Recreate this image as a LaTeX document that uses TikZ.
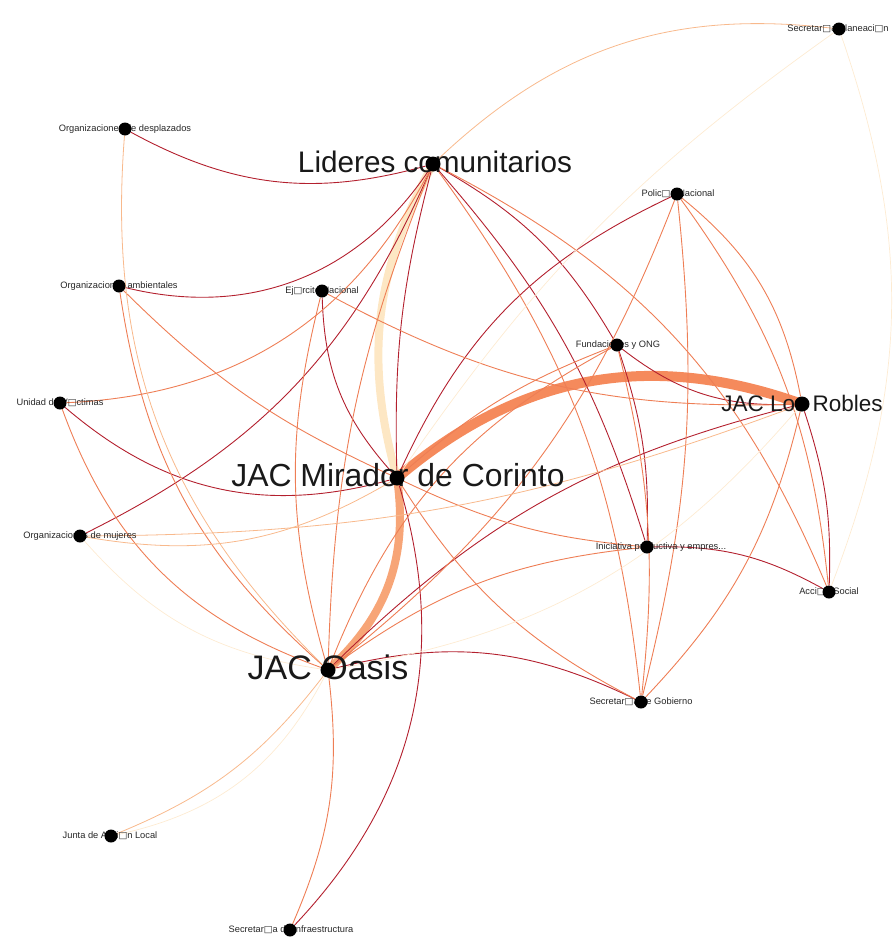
\documentclass[tikz,border=0pt]{standalone}
\usepackage{fontspec}
\setmainfont{Liberation Sans}
\newfontfamily\djv{DejaVu Sans}
\newcommand{\bx}{{\djv\symbol{"25A1}}}
\pgfdeclarelayer{edgelayer}
\pgfdeclarelayer{lablayer}
\pgfsetlayers{edgelayer,lablayer,main}
\definecolor{cA}{HTML}{FDEBD2}
\definecolor{cB}{HTML}{F8B98C}
\definecolor{cC}{HTML}{EE7E55}
\definecolor{cD}{HTML}{B3202E}
\definecolor{cThickA}{HTML}{FDE7C4}
\definecolor{cThickB}{HTML}{F58A5C}
\definecolor{cThickC}{HTML}{F7A577}
\tikzset{
  dot/.style={circle,fill=black,inner sep=0pt,minimum size=13pt},
  bigdot/.style={circle,fill=black,inner sep=0pt,minimum size=15pt},
  small/.style={font=\fontsize{9.3}{9.3}\selectfont,inner sep=0pt,text=black!85},
  big/.style={inner sep=0pt,text=black!90},
  eA/.style={draw=cA,line width=0.7pt},
  eB/.style={draw=cB,line width=0.8pt},
  eC/.style={draw=cC,line width=0.9pt},
  eD/.style={draw=cD,line width=0.9pt},
}
\begin{document}
\begin{tikzpicture}[x=1pt,y=-1pt]
\useasboundingbox (0,0) rectangle (896,937);
% dots
\node[dot] (pla) at (839,29) {};
\node[dot] (des) at (125,129) {};
\node[bigdot] (lid) at (433,164) {};
\node[dot] (pol) at (677,194) {};
\node[dot] (amb) at (119,286) {};
\node[dot] (eje) at (322,291) {};
\node[dot] (fun) at (617,345) {};
\node[dot] (uni) at (60,403) {};
\node[bigdot] (rob) at (802,404) {};
\node[bigdot] (mir) at (397,478) {};
\node[dot] (muj) at (80,536) {};
\node[dot] (ini) at (647,547) {};
\node[dot] (acc) at (829,592) {};
\node[bigdot] (oas) at (328,670) {};
\node[dot] (gob) at (641,702) {};
\node[dot] (jun) at (111,836) {};
\node[dot] (inf) at (290,930) {};
% labels
\begin{pgfonlayer}{lablayer}
\node[small] (lpla) at (838,29) {Secretar\bx a Planeaci\bx n};
\node[small] (ldes) at (125,129) {Organizaciones de desplazados};
\node[big,font=\fontsize{29.7}{29.7}\selectfont] (llid) at (435,162) {Lideres comunitarios};
\node[small] (lpol) at (678,194) {Polic\bx a Nacional};
\node[small] (lamb) at (119,286) {Organizaciones ambientales};
\node[small] (leje) at (322,291) {Ej\bx rcito Nacional};
\node[small] (lfun) at (618,345) {Fundaciones y ONG};
\node[small] (luni) at (60,403) {Unidad de V\bx ctimas};
\node[big,font=\fontsize{22.5}{22.5}\selectfont] (lrob) at (802,403) {JAC Los Robles};
\node[big,font=\fontsize{31.9}{31.9}\selectfont] (lmir) at (398,475) {JAC Mirador de Corinto};
\node[small] (lmuj) at (80,536) {Organizaciones de mujeres};
\node[small] (lini) at (661,547) {Iniciativa productiva y empres...};
\node[small] (lacc) at (829,592) {Acci\bx n Social};
\node[big,font=\fontsize{34}{34}\selectfont] (loas) at (328,667) {JAC Oasis};
\node[small] (lgob) at (641,702) {Secretar\bx a de Gobierno};
\node[small] (ljun) at (110,836) {Junta de Acci\bx n Local};
\node[small] (linf) at (291,930) {Secretar\bx a de Infraestructura};
\end{pgfonlayer}
% edges
\begin{pgfonlayer}{edgelayer}
\draw[draw=cThickA,line width=8pt] (lid.center) to[bend right=22] (mir.center);
\draw[draw=cThickC,line width=8pt] (mir.center) to[bend left=28] (oas.center);
\draw[draw=cThickB,line width=10pt] (mir.center) to[bend left=30] (rob.center);
% dark red
\draw[eD] (des) to[bend right=22] (lid);
\draw[eD] (amb) to[bend right=35] (lid);
\draw[eD] (muj) to[bend right=20] (lid);
\draw[eD] (lid) to[bend left=15] (fun);
\draw[eD] (lid) to[bend left=12] (ini);
\draw[eD] (lid) to[bend right=8] (mir);
\draw[eD] (uni) to[bend right=28] (mir);
\draw[eD] (eje) to[bend right=20] (mir);
\draw[eD] (mir) to[bend left=20] (pol);
\draw[eD] (mir) to[bend left=30] (inf);
\draw[eD] (fun) to[bend right=20] (rob);
\draw[eD] (oas) to[bend left=15] (rob);
\draw[eD] (fun) to[bend left=10] (ini);
\draw[eD] (oas) to[bend left=20] (gob);
\draw[eD] (ini) to[bend left=15] (acc);
\draw[eD] (rob) to[bend left=10] (acc);
% orange
\draw[eC] (uni) to[bend right=30] (lid);
\draw[eC] (lid) to[bend left=15] (gob);
\draw[eC] (lid) to[bend left=20] (acc);
\draw[eC] (eje) to[bend right=15] (rob);
\draw[eC] (amb) to[bend right=10] (mir);
\draw[eC] (uni) to[bend right=25] (oas);
\draw[eC] (amb) to[bend right=20] (oas);
\draw[eC] (oas) to[bend left=15] (eje);
\draw[eC] (oas) to[bend left=15] (ini);
\draw[eC] (oas) to[bend left=20] (fun);
\draw[eC] (oas) to[bend left=10] (lid);
\draw[eC] (oas) to[bend left=15] (inf);
\draw[eC] (mir) to[bend left=10] (fun);
\draw[eC] (mir) to[bend right=10] (ini);
\draw[eC] (mir) to[bend right=15] (gob);
\draw[eC] (pol) to[bend left=10] (gob);
\draw[eC] (pol) to[bend left=15] (acc);
\draw[eC] (pol) to[bend left=20] (rob);
\draw[eC] (rob) to[bend left=15] (gob);
\draw[eC] (fun) to[bend left=10] (gob);
\draw[eC] (oas) to[bend right=15] (pol);
% light
\draw[eB] (oas) to[bend left=15] (jun);
\draw[eB] (des) to[bend right=25] (oas);
\draw[eB] (muj) to[bend right=20] (mir);
\draw[eB] (muj) to[bend right=10] (rob);
\draw[eA] (muj) to[bend right=20] (oas);
\draw[eA] (oas) to[bend left=25] (jun);
\draw[eB] (lid) to[bend left=25] (pla);
\draw[eA] (pla) to[bend left=20] (acc);
\draw[eA] (pla) to[bend right=10] (mir);
\draw[eA] (rob) to[bend left=20] (oas);
\end{pgfonlayer}
\end{tikzpicture}
\end{document}
